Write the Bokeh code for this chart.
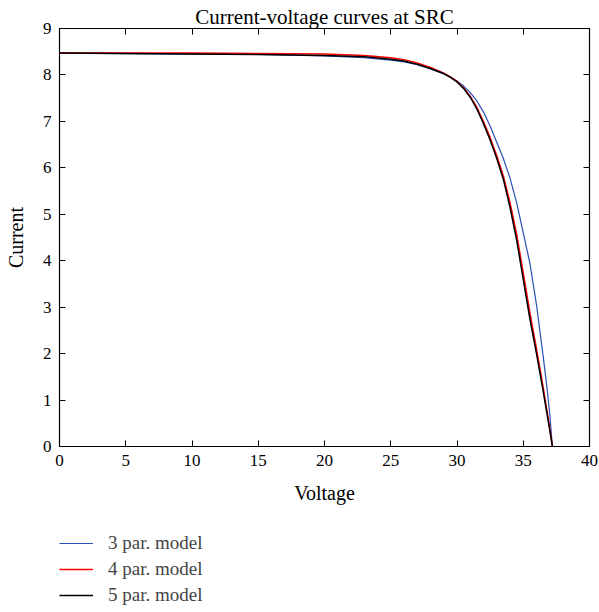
from bokeh.plotting import figure
from bokeh.models import Legend, LegendItem, LinearAxis, FixedTicker
from bokeh.layouts import column
from bokeh.embed import file_html
from bokeh.resources import INLINE

# Voltage / current samples (3, 4, 5 parameter models)
v3 = [0, 5, 10, 15, 20, 23, 25, 26, 27, 28, 29, 29.5, 30, 30.5, 31, 31.5, 32, 32.5,
      33, 33.5, 34, 34.5, 35, 35.5, 36, 36.5, 36.8, 37.0, 37.2]
i3 = [8.47, 8.46, 8.45, 8.44, 8.41, 8.37, 8.32, 8.28, 8.22, 8.13, 8.02, 7.95, 7.87,
      7.76, 7.62, 7.44, 7.20, 6.90, 6.55, 6.20, 5.78, 5.25, 4.60, 3.95, 3.05, 1.95,
      1.25, 0.70, 0.0]

v4 = [0, 5, 10, 15, 20, 23, 25, 26, 27, 28, 29, 29.5, 30, 30.5, 31, 31.5, 32, 32.5,
      33, 33.5, 34, 34.5, 35, 35.5, 36, 36.5, 37.0, 37.2]
i4 = [8.47, 8.47, 8.47, 8.46, 8.45, 8.42, 8.37, 8.33, 8.26, 8.16, 8.04, 7.96, 7.86,
      7.72, 7.54, 7.30, 6.99, 6.65, 6.26, 5.82, 5.25, 4.57, 3.74, 2.88, 2.10, 1.28,
      0.40, 0.0]

v5 = [0, 5, 10, 15, 20, 23, 25, 26, 27, 28, 29, 29.5, 30, 30.5, 31, 31.5, 32, 32.5,
      33, 33.5, 34, 34.5, 35, 35.5, 36, 36.5, 37.0, 37.2]
i5 = [8.47, 8.46, 8.45, 8.44, 8.42, 8.39, 8.34, 8.30, 8.23, 8.14, 8.03, 7.95, 7.85,
      7.71, 7.52, 7.27, 6.95, 6.60, 6.20, 5.75, 5.15, 4.45, 3.60, 2.75, 2.00, 1.20,
      0.35, 0.0]

x_ticks = [0, 5, 10, 15, 20, 25, 30, 35, 40]
y_ticks = [0, 1, 2, 3, 4, 5, 6, 7, 8, 9]
labels = ["3 par. model", "4 par. model", "5 par. model"]
colors = ["#2b4fb5", "#ff0000", "#000000"]
widths = [1.2, 1.5, 1.5]
series_v = [v3, v4, v5]
series_i = [i3, i4, i5]

FONT = "Liberation Serif"

p = figure(width=599, height=510, x_range=(0, 40), y_range=(0, 9),
           output_backend="svg", toolbar_location=None,
           min_border_left=59, min_border_right=10, min_border_top=28,
           min_border_bottom=64)
p.grid.visible = False
p.outline_line_color = "black"
p.outline_line_width = 1.2

p.title.text = "Current-voltage curves at SRC"
p.title.align = "center"
p.title.text_font = FONT
p.title.text_font_size = "21px"
p.title.text_font_style = "normal"
p.title.text_color = "black"
p.title.standoff = 0
p.title.offset = 0

for vv, ii, col, w in zip(series_v, series_i, colors, widths):
    p.line(vv, ii, color=col, line_width=w)

for ax in (p.xaxis[0], p.yaxis[0]):
    ax.major_tick_in = 6
    ax.major_tick_out = 0
    ax.minor_tick_in = 0
    ax.minor_tick_out = 0
    ax.major_tick_line_color = "black"
    ax.axis_line_color = None
    ax.major_label_text_font = FONT
    ax.major_label_text_font_size = "17px"
    ax.major_label_text_color = "black"
    ax.axis_label_text_font = FONT
    ax.axis_label_text_font_size = "20px"
    ax.axis_label_text_font_style = "normal"
    ax.axis_label_text_color = "black"

p.xaxis.ticker = FixedTicker(ticks=x_ticks)
p.yaxis.ticker = FixedTicker(ticks=y_ticks)
p.xaxis.axis_label = "Voltage"
p.yaxis.axis_label = "Current"
p.xaxis.major_label_standoff = 8
p.xaxis.axis_label_standoff = 13
p.yaxis.major_label_standoff = 8
p.yaxis.axis_label_standoff = 13

# box ticks on top and right
top = LinearAxis(ticker=FixedTicker(ticks=x_ticks), major_tick_in=6, major_tick_out=0,
                 minor_tick_in=0, minor_tick_out=0, major_label_text_font_size="0px",
                 major_label_standoff=0, axis_line_color=None)
right = LinearAxis(ticker=FixedTicker(ticks=y_ticks), major_tick_in=6, major_tick_out=0,
                   minor_tick_in=0, minor_tick_out=0, major_label_text_font_size="0px",
                   major_label_standoff=0, axis_line_color=None)
p.add_layout(top, "above")
p.add_layout(right, "right")

# legend panel below the chart (its lines lie outside its visible range)
lg = figure(width=599, height=102, x_range=(100, 101), y_range=(100, 101),
            output_backend="svg", toolbar_location=None,
            x_axis_location=None, y_axis_location=None,
            min_border_left=0, min_border_right=0, min_border_top=0,
            min_border_bottom=0)
lg.grid.visible = False
lg.outline_line_color = None
items = []
for vv, ii, lab, col, w in zip(series_v, series_i, labels, colors, widths):
    r = lg.line(vv, ii, color=col, line_width=w)
    items.append(LegendItem(label=lab, renderers=[r]))
legend = Legend(items=items, location=(0, 6), orientation="vertical",
                border_line_color=None, background_fill_alpha=0,
                label_text_font=FONT, label_text_font_size="19px",
                glyph_width=34, glyph_height=20, label_standoff=15,
                spacing=4, padding=0, margin=0)
lg.add_layout(legend)

open("out.html", "w").write(file_html(column(p, lg), INLINE))
